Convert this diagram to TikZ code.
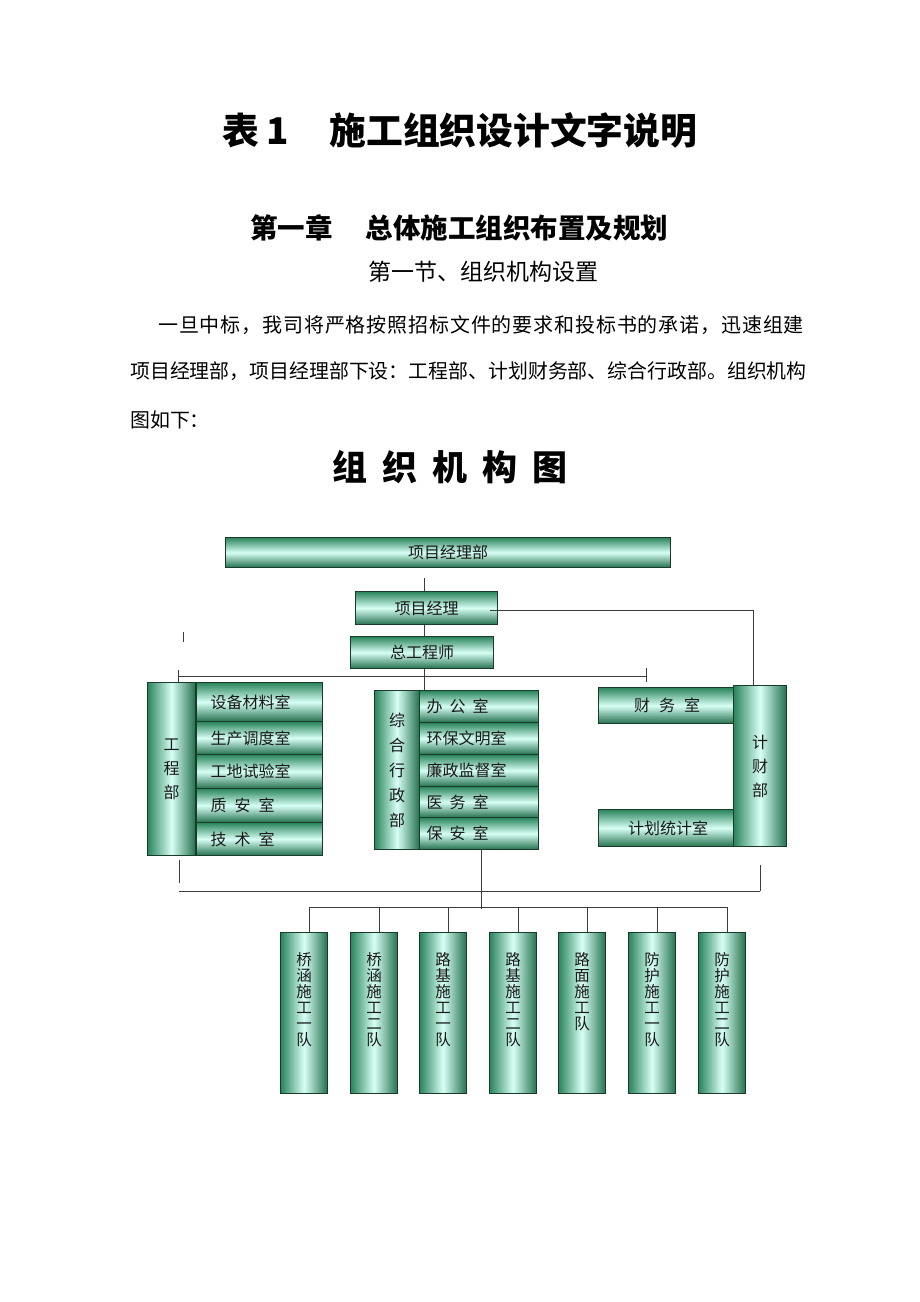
\documentclass[tikz,border=0pt]{standalone}
\usepackage{fontspec}
\setmainfont{Noto Sans CJK SC}
\definecolor{gdark}{RGB}{42,132,92}
\definecolor{glight}{RGB}{215,255,245}
\definecolor{edgec}{RGB}{25,60,40}
\definecolor{ink}{RGB}{25,25,25}
\tikzset{
  hbox/.style={draw=edgec, line width=1.1pt, top color=gdark, bottom color=gdark!85!black, middle color=glight,
    inner sep=0pt, anchor=north west, font=\fontsize{16}{16}\selectfont, text=ink},
  vbox/.style={draw=edgec, line width=1.1pt, left color=gdark, right color=gdark!85!black, middle color=glight,
    inner sep=0pt, anchor=north west, text=ink, align=center, font=\fontsize{16}{24}\selectfont},
  conn/.style={draw=ink!85, line width=1pt},
  teamtxt/.style={anchor=north, inner sep=0pt, align=center, text=ink, font=\fontsize{15.5}{16}\selectfont},
  txt/.style={inner sep=0pt, text=black},
}
\begin{document}
\begin{tikzpicture}[x=1pt,y=-1pt]
\useasboundingbox (0,0) rectangle (920,1302);
\fill[white] (0,0) rectangle (920,1302);

% ---- texts above the chart ----
\node[txt, anchor=west, font=\fontsize{36.8}{40}\selectfont\bfseries] (title) at (222,130)
  {表\hspace{8pt}1\hspace{40pt}施工组织设计文字说明};
\node[txt, anchor=west, font=\fontsize{27.5}{30}\selectfont\bfseries] (chap) at (250,228)
  {第一章\hspace{33pt}总体施工组织布置及规划};
\node[txt, anchor=west, font=\fontsize{23}{25}\selectfont] (sect) at (368,272)
  {第一节、组织机构设置};
\node[txt, anchor=west, font=\fontsize{20}{22}\selectfont\addfontfeatures{LetterSpace=4.3}] (l1) at (158,325)
  {一旦中标，我司将严格按照招标文件的要求和投标书的承诺，迅速组建};
\node[txt, anchor=west, font=\fontsize{19.9}{22}\selectfont] (l2) at (130,371)
  {项目经理部，项目经理部下设：工程部、计划财务部、综合行政部。组织机构};
\node[txt, anchor=west, font=\fontsize{19.9}{22}\selectfont] (l3) at (130,420)
  {图如下：};
\node[txt, anchor=west, font=\fontsize{35}{38}\selectfont\bfseries] (ctitle) at (332,467)
  {组\hspace{15pt}织\hspace{15pt}机\hspace{15pt}构\hspace{15pt}图};

% ---- top boxes ----
\node[hbox, minimum width=445pt, minimum height=30pt] (pm) at (225,537) {项目经理部};
\node[hbox, minimum width=142pt, minimum height=33pt] (mgr) at (355,591) {项目经理};
\node[hbox, minimum width=143pt, minimum height=32pt] (chief) at (350,636) {总工程师};

% ---- engineering department ----
\node[hbox, minimum width=126pt, minimum height=39pt, text width=98pt, align=left] (e1) at (196,682) {设备材料室};
\node[hbox, minimum width=126pt, minimum height=33pt, text width=98pt, align=left] (e2) at (196,721) {生产调度室};
\node[hbox, minimum width=126pt, minimum height=34pt, text width=98pt, align=left] (e3) at (196,754) {工地试验室};
\node[hbox, minimum width=126pt, minimum height=34pt, text width=98pt, align=left] (e4) at (196,788) {质\hspace{8pt}安\hspace{8pt}室};
\node[hbox, minimum width=126pt, minimum height=33pt, text width=98pt, align=left] (e5) at (196,822) {技\hspace{8pt}术\hspace{8pt}室};
\node[vbox, minimum width=48pt, minimum height=173pt] (eng) at (147,682) {工\\程\\部};

% ---- administration department ----
\node[hbox, minimum width=119pt, minimum height=32pt, text width=105pt, align=left] (ad1) at (419,690) {办\hspace{7pt}公\hspace{7pt}室};
\node[hbox, minimum width=119pt, minimum height=32pt, text width=105pt, align=left] (ad2) at (419,722) {环保文明室};
\node[hbox, minimum width=119pt, minimum height=32pt, text width=105pt, align=left] (ad3) at (419,754) {廉政监督室};
\node[hbox, minimum width=119pt, minimum height=31pt, text width=105pt, align=left] (ad4) at (419,786) {医\hspace{7pt}务\hspace{7pt}室};
\node[hbox, minimum width=119pt, minimum height=32pt, text width=105pt, align=left] (ad5) at (419,817) {保\hspace{7pt}安\hspace{7pt}室};
\node[vbox, minimum width=45pt, minimum height=159pt, font=\fontsize{16}{25}\selectfont] (adm) at (374,690) {综\\合\\行\\政\\部};

% ---- finance department ----
\node[hbox, minimum width=137pt, minimum height=36pt] (fin) at (598,687) {财\hspace{9pt}务\hspace{9pt}室};
\node[hbox, minimum width=139pt, minimum height=37pt] (plan) at (598,809) {计划统计室};
\node[vbox, minimum width=53pt, minimum height=161pt] (cf) at (733,685) {计\\财\\部};

% ---- teams ----
\foreach \i/\x in {1/280,2/350,3/419,4/489,5/558,6/628,7/698}{
  \node[vbox, minimum width=47pt, minimum height=161pt] (t\i) at (\x,932) {};
}
\node[teamtxt] (t1x) at ([yshift=-20pt]t1.north) {桥\\涵\\施\\工\\一\\队};
\node[teamtxt] (t2x) at ([yshift=-20pt]t2.north) {桥\\涵\\施\\工\\二\\队};
\node[teamtxt] (t3x) at ([yshift=-20pt]t3.north) {路\\基\\施\\工\\一\\队};
\node[teamtxt] (t4x) at ([yshift=-20pt]t4.north) {路\\基\\施\\工\\二\\队};
\node[teamtxt] (t5x) at ([yshift=-20pt]t5.north) {路\\面\\施\\工\\队};
\node[teamtxt] (t6x) at ([yshift=-20pt]t6.north) {防\\护\\施\\工\\一\\队};
\node[teamtxt] (t7x) at ([yshift=-20pt]t7.north) {防\\护\\施\\工\\二\\队};

% ---- connectors ----
\coordinate (cx) at (424,0);
\draw[conn] ([yshift=-10pt]pm.south -| cx) -- (mgr.north -| cx);
\draw[conn] ([xshift=-8pt,yshift=-2.5pt]mgr.east) -| ([xshift=-7pt]cf.north);
\draw[conn] (mgr.south -| cx) -- (chief.north -| cx);
\draw[conn] (chief.south -| cx) -- (ad1.north -| cx);

\coordinate (busL) at (178,676);
\coordinate (busR) at (646,676);
\draw[conn] (busL) -- (busR);
\draw[conn] ([yshift=8pt]busR) -- ([yshift=-6pt]busR);
\draw[conn] ([yshift=6pt]busL) -- (eng.north -| busL);
\coordinate (stray) at (183,632);
\draw[conn] (stray) -- ++(0,10);

\coordinate (lowL) at (179,891);
\coordinate (lowR) at (760,891);
\draw[conn] (lowL) -- (lowR);
\draw[conn] (lowR) -- ++(0,-26);
\draw[conn] ([yshift=-4pt]eng.south -| lowL) -- ([yshift=8pt]lowL);

\coordinate (cx2) at (481,0);
\coordinate (tbus) at (481,907);
\draw[conn] (ad5.south -| cx2) -- ([yshift=-2pt]tbus);
\draw[conn] ([xshift=5pt]t1.north |- tbus) -- ([xshift=5pt]t7.north |- tbus);
\foreach \i in {1,...,7}{
  \draw[conn] ([xshift=5pt]t\i.north |- tbus) -- ([xshift=5pt]t\i.north);
}
\end{tikzpicture}
\end{document}
